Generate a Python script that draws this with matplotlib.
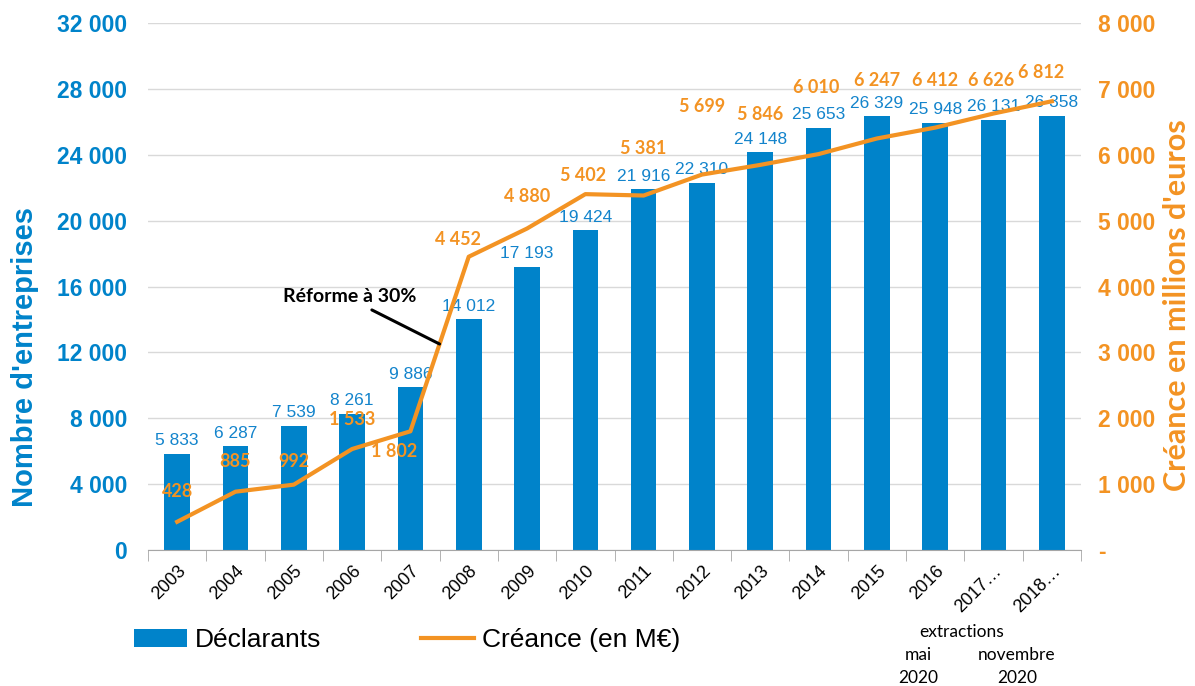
import matplotlib
matplotlib.use("Agg")
import matplotlib.pyplot as plt
from matplotlib.ticker import FuncFormatter, MultipleLocator

# Données
annees = ["2003", "2004", "2005", "2006", "2007", "2008", "2009", "2010",
          "2011", "2012", "2013", "2014", "2015", "2016", "2017…", "2018…"]
declarants = [5833, 6287, 7539, 8261, 9886, 14012, 17193, 19424,
              21916, 22310, 24148, 25653, 26329, 25948, 26131, 26358]
creance = [428, 885, 992, 1533, 1802, 4452, 4880, 5402,
           5381, 5699, 5846, 6010, 6247, 6412, 6626, 6812]

# décalages des étiquettes orange (en pixels)
dx_lab = [0, 0, 0, 0, -16, -11, 0, -2, 0, 0, 0, -2, 0, 0, -2, -11]
dy_lab = [30, 30, 23, 30, -20, 17, 32, 19, 47, 68, 50, 67, 58, 47, 33, 29]

bleu = "#0083CA"
orange = "#F39323"

plt.rcParams["font.family"] = ["Liberation Sans", "DejaVu Sans"]

fig = plt.figure(figsize=(11.95, 6.86), dpi=100)
ax = fig.add_axes([148 / 1195, 1 - 550 / 686, (1081 - 148) / 1195, (550 - 23) / 686])
ax2 = ax.twinx()

x = list(range(len(annees)))
bars = ax.bar(x, declarants, width=0.44, color=bleu, zorder=2, label="Déclarants")
ax.set_ylim(0, 32000)
ax.set_xlim(-0.5, len(annees) - 0.5)
ax.yaxis.set_major_locator(MultipleLocator(4000))
ax.grid(axis="y", color="#D9D9D9", lw=1, zorder=0)
ax.set_axisbelow(True)

fmt = FuncFormatter(lambda v, p: f"{int(v):,}".replace(",", " "))
ax.yaxis.set_major_formatter(fmt)
ax.tick_params(axis="y", length=0, pad=15, labelsize=16.5, labelcolor=bleu)
for t in ax.get_yticklabels():
    t.set_fontweight("bold")

for s in ["top", "right", "left"]:
    ax.spines[s].set_visible(False)
ax.spines["bottom"].set_color("#A6A6A6")
ax.set_xticks(x)
ax.set_xticklabels(annees, rotation=45, ha="right", rotation_mode="anchor", fontsize=13)
ax.tick_params(axis="x", which="major", length=0, pad=9)
ax.set_xticks([i + 0.5 for i in range(-1, len(annees))], minor=True)
ax.tick_params(axis="x", which="minor", length=8, color="#A6A6A6")

ax.set_ylabel("Nombre d'entreprises", fontsize=21, fontweight="bold", color=bleu)
ax.yaxis.set_label_coords(-0.117, 0.366)

for i, v in enumerate(declarants):
    ax.annotate(f"{v:,}".replace(",", " "), (i, v), xytext=(0, 4), textcoords="offset points",
                ha="center", va="bottom", fontsize=12.5, color="#1384CC", zorder=5)

# courbe créance
line, = ax2.plot(x, creance, color=orange, lw=3, label="Créance (en M€)", zorder=3)
ax2.set_ylim(0, 8000)
ax2.yaxis.set_major_locator(MultipleLocator(1000))
ax2.yaxis.set_major_formatter(FuncFormatter(lambda v, p: "-" if v == 0 else f"{int(v):,}".replace(",", " ")))
ax2.tick_params(axis="y", length=0, pad=12, labelsize=16.5, labelcolor=orange)
for t in ax2.get_yticklabels():
    t.set_fontweight("bold")
for s in ["top", "right", "left", "bottom"]:
    ax2.spines[s].set_visible(False)
ax2.set_ylabel("Créance en millions d'euros", fontsize=22, fontweight="bold", color=orange,
               family="Lato")
ax2.yaxis.set_label_coords(1.088, 0.465)

for i, v in enumerate(creance):
    ax2.annotate(f"{v:,}".replace(",", " "), (i, v),
                 xytext=(dx_lab[i] * 0.72, dy_lab[i] * 0.72), textcoords="offset points",
                 ha="center", va="center", fontsize=13, fontweight="bold", color=orange,
                 family="Lato", zorder=6)

# annotation réforme
ax2.annotate("Réforme à 30%", xy=(4.5, (creance[4] + creance[5]) / 2), xytext=(-113, 34),
             textcoords="offset points", ha="left", va="center", fontsize=14, fontweight="bold",
             family="Lato", color="black",
             arrowprops=dict(arrowstyle="-", color="black", lw=2.2, shrinkA=3, shrinkB=0,
                             relpos=(0.6, 0.0)))

# légende
fig.legend(handles=[bars, line], loc="center left", bbox_to_anchor=(110 / 1195, 1 - 640 / 686),
           ncol=2, frameon=False, fontsize=19, handlelength=2.0, handleheight=0.7,
           columnspacing=3.8, handletextpad=0.3)

# note extractions
fig.text(962 / 1195, 1 - 632 / 686, "extractions", ha="center", va="center", fontsize=12.5, family="Lato")
fig.text(918 / 1195, 1 - 655 / 686, "mai", ha="center", va="center", fontsize=12.5, family="Lato")
fig.text(1017 / 1195, 1 - 655 / 686, "novembre", ha="center", va="center", fontsize=12.5, family="Lato")
fig.text(918 / 1195, 1 - 678 / 686, "2020", ha="center", va="center", fontsize=12.5, family="Lato")
fig.text(1017 / 1195, 1 - 678 / 686, "2020", ha="center", va="center", fontsize=12.5, family="Lato")

fig.savefig("out.png", dpi=100)
